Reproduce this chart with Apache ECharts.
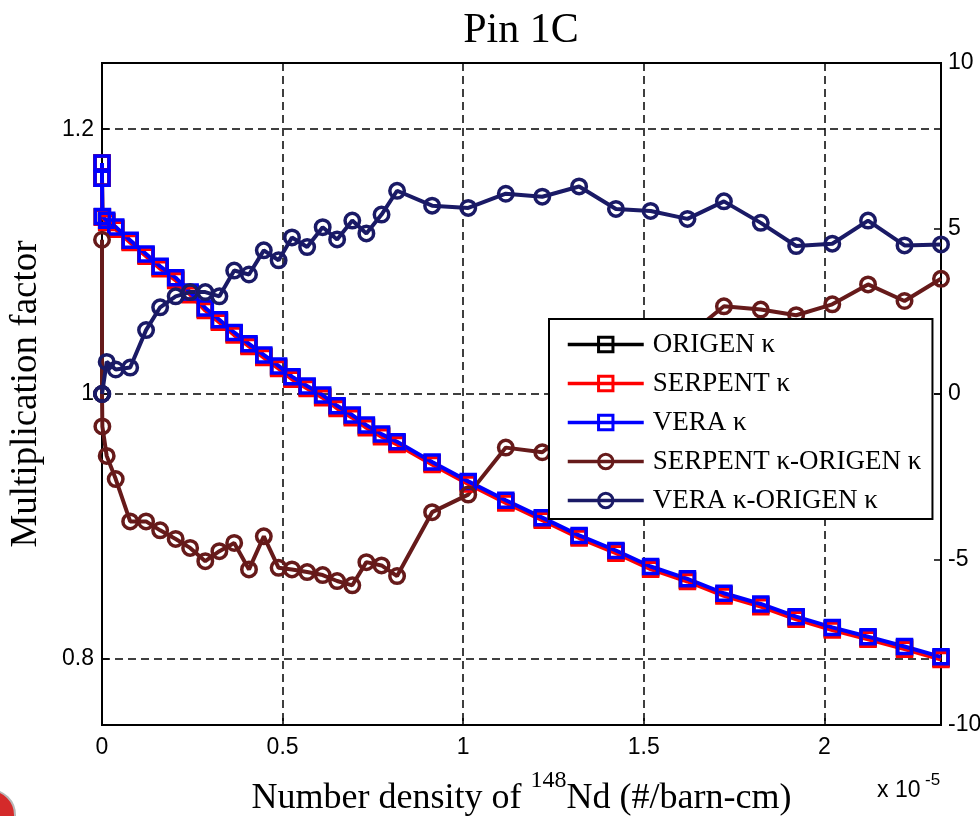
<!DOCTYPE html>
<html>
<head>
<meta charset="utf-8">
<title>Pin 1C</title>
<script src="https://cdn.jsdelivr.net/npm/echarts@6/dist/echarts.min.js"></script>
<style>
html, body { margin: 0; padding: 0; background: #fff; }
#main { width: 980px; height: 816px; }
</style>
</head>
<body>
<div id="main"></div>
<script>
// number density of Nd-148 (x 1e-5 #/barn-cm)
const density = [0, 0, 0.001, 0.013, 0.038, 0.078, 0.122, 0.161, 0.204, 0.244, 0.286, 0.325, 0.366,
  0.407, 0.448, 0.489, 0.526, 0.568, 0.611, 0.651, 0.693, 0.732, 0.774, 0.817, 0.914, 1.014, 1.118,
  1.219, 1.321, 1.423, 1.519, 1.621, 1.722, 1.824, 1.922, 2.022, 2.121, 2.222, 2.323]

// multiplication factors (left axis)
const origenK = [1.1745, 1.1630, 1.1338, 1.1302, 1.1252, 1.1152, 1.1048, 1.0955, 1.0868, 1.0760, 1.0640,
  1.0551, 1.0455, 1.0369, 1.0285, 1.0202, 1.0121, 1.0051, 0.9982, 0.9901, 0.9831, 0.9755, 0.9687, 0.9629,
  0.9477, 0.9330, 0.9187, 0.9056, 0.8922, 0.8808, 0.8687, 0.8594, 0.8485, 0.8404, 0.8308, 0.8227, 0.8157,
  0.8083, 0.8005]
const serpentK = [1.1745, 1.1630, 1.1335, 1.1295, 1.1245, 1.1145, 1.1040, 1.0946, 1.0858, 1.0750, 1.0630,
  1.0541, 1.0445, 1.0359, 1.0275, 1.0192, 1.0111, 1.0041, 0.9972, 0.9891, 0.9821, 0.9745, 0.9677, 0.9619,
  0.9467, 0.9320, 0.9177, 0.9046, 0.8912, 0.8798, 0.8677, 0.8584, 0.8475, 0.8394, 0.8298, 0.8217, 0.8147,
  0.8073, 0.7995]
const veraK = [1.1745, 1.1630, 1.1340, 1.1312, 1.1262, 1.1162, 1.1058, 1.0965, 1.0878, 1.0770, 1.0650,
  1.0561, 1.0465, 1.0379, 1.0295, 1.0212, 1.0131, 1.0061, 0.9992, 0.9911, 0.9841, 0.9765, 0.9697, 0.9639,
  0.9487, 0.9340, 0.9197, 0.9066, 0.8932, 0.8818, 0.8697, 0.8604, 0.8495, 0.8414, 0.8318, 0.8237, 0.8167,
  0.8093, 0.8015]

// differences (right axis)
const serpentDiff = [4.66, 0, -0.98, -1.87, -2.57, -3.85, -3.85, -4.12, -4.38, -4.65, -5.05, -4.75, -4.50,
  -5.30, -4.30, -5.25, -5.30, -5.38, -5.47, -5.65, -5.78, -5.08, -5.18, -5.50, -3.57, -3.04, -1.62, -1.76,
  -0.9, -0.1, 0.8, 1.75, 2.65, 2.55, 2.38, 2.71, 3.31, 2.81, 3.48]
const veraDiff = [0, 0, 0, 0.97, 0.74, 0.80, 1.93, 2.62, 2.95, 3.08, 3.08, 2.95, 3.73, 3.61, 4.34, 4.04,
  4.73, 4.44, 5.04, 4.67, 5.24, 4.85, 5.42, 6.14, 5.69, 5.62, 6.05, 5.96, 6.27, 5.59, 5.53, 5.29, 5.82,
  5.17, 4.47, 4.54, 5.24, 4.49, 4.52]

const xTicks = [0, 0.5, 1, 1.5, 2]
const leftTicks = [0.8, 1, 1.2]

const serif = '"Liberation Serif", "Times New Roman", serif'
const sans = '"Liberation Sans", Arial, sans-serif'

function makeSeries(name, color, values, symbol, axis) {
  return {
    name: name,
    type: 'line',
    yAxisIndex: axis,
    data: density.map((x, i) => [x, values[i]]),
    symbol: symbol,
    symbolSize: symbol === 'rect' ? 14 : 14.5,
    showAllSymbol: true,
    lineStyle: { color: color, width: 4 },
    itemStyle: { color: 'rgba(255,255,255,0)', borderColor: color, borderWidth: 3.5 },
    emphasis: { disabled: true },
  }
}

const gridLine = { show: true, lineStyle: { color: '#000', type: [8, 5], width: 1.5 } }

const chart = echarts.init(document.getElementById('main'))
chart.setOption({
  animation: false,
  backgroundColor: '#fff',
  grid: {
    left: 102, right: 39, top: 63, bottom: 91,
    outerBoundsMode: 'none', containLabel: false,
    show: true, borderColor: '#000', borderWidth: 2,
  },
  graphic: [
    {
      type: 'text', x: 521, y: 10,
      style: { text: 'Pin 1C', fontFamily: serif, fontSize: 42, fill: '#000', align: 'center', verticalAlign: 'top' },
    },
    {
      type: 'text', x: 877, y: 791,
      style: { text: 'x 10', fontFamily: sans, fontSize: 23, fill: '#000', align: 'left', verticalAlign: 'middle' },
    },
    {
      type: 'text', x: 925, y: 780,
      style: { text: '-5', fontFamily: sans, fontSize: 17, fill: '#000', align: 'left', verticalAlign: 'middle' },
    },
    {
      type: 'circle', shape: { cx: -10, cy: 815, r: 25 },
      style: { fill: '#d42a2a', stroke: '#b8b8b8', lineWidth: 2 },
    },
  ],
  legend: {
    orient: 'vertical',
    left: 549,
    top: 319,
    itemWidth: 76,
    itemHeight: 18,
    itemGap: 8,
    padding: [10, 11, 3, 17],
    borderColor: '#000',
    borderWidth: 2,
    backgroundColor: '#fff',
    lineStyle: { width: 3.5 },
    itemStyle: { borderWidth: 3 },
    textStyle: { fontFamily: serif, fontSize: 27, color: '#000', lineHeight: 31, padding: [0, 0, 0, 4] },
    data: ['ORIGEN κ', 'SERPENT κ', 'VERA κ', 'SERPENT κ-ORIGEN κ', 'VERA κ-ORIGEN κ'],
  },
  xAxis: {
    type: 'value',
    min: 0,
    max: 2.323,
    name: '{a|Number density of }{s|148}{a|Nd (#/barn-cm)}',
    nameLocation: 'middle',
    nameGap: 44,
    nameTextStyle: {
      rich: {
        a: { fontFamily: serif, fontSize: 36, color: '#000', lineHeight: 48, verticalAlign: 'bottom' },
        s: { fontFamily: serif, fontSize: 24, color: '#000', lineHeight: 24, verticalAlign: 'top' },
      },
    },
    axisLine: { show: true, onZero: false, lineStyle: { color: '#000', width: 2 } },
    axisTick: { show: true, inside: true, length: 7, customValues: xTicks, lineStyle: { color: '#000', width: 1.5 } },
    axisLabel: { customValues: xTicks, color: '#000', fontFamily: sans, fontSize: 23, margin: 11, formatter: (v) => String(v) },
    splitLine: gridLine,
  },
  yAxis: [
    {
      type: 'value',
      min: 0.75,
      max: 1.25,
      position: 'left',
      name: 'Multiplication factor',
      nameLocation: 'middle',
      nameGap: 54,
      nameTextStyle: { fontFamily: serif, fontSize: 37, color: '#000', lineHeight: 44 },
      axisLine: { show: true, onZero: false, lineStyle: { color: '#000', width: 2 } },
      axisTick: { show: true, inside: true, length: 7, customValues: leftTicks, lineStyle: { color: '#000', width: 1.5 } },
      axisLabel: { customValues: leftTicks, color: '#000', fontFamily: sans, fontSize: 23, margin: 8, formatter: (v) => String(v) },
      splitLine: gridLine,
    },
    {
      type: 'value',
      min: -10,
      max: 10,
      interval: 5,
      position: 'right',
      axisLine: { show: true, onZero: false, lineStyle: { color: '#000', width: 2 } },
      axisTick: { show: true, inside: true, length: 7, lineStyle: { color: '#000', width: 1.5 } },
      axisLabel: { color: '#000', fontFamily: sans, fontSize: 23, margin: 7 },
      splitLine: { show: false },
    },
  ],
  series: [
    makeSeries('ORIGEN κ', '#000000', origenK, 'rect', 0),
    makeSeries('SERPENT κ', '#ff0000', serpentK, 'rect', 0),
    makeSeries('VERA κ', '#0000ff', veraK, 'rect', 0),
    makeSeries('SERPENT κ-ORIGEN κ', '#661a1a', serpentDiff, 'circle', 1),
    makeSeries('VERA κ-ORIGEN κ', '#1a1a66', veraDiff, 'circle', 1),
  ],
})
</script>
</body>
</html>
